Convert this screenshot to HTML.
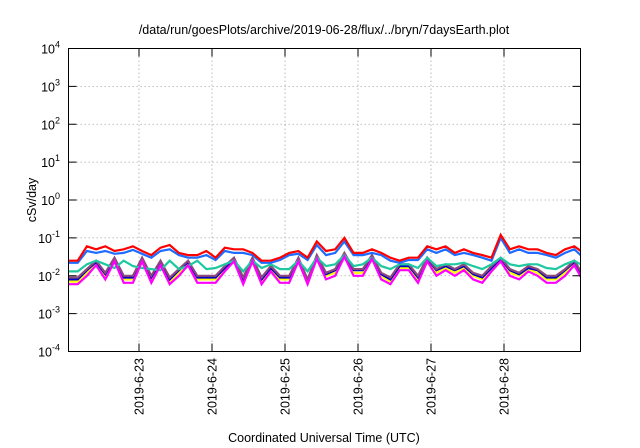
<!DOCTYPE html>
<html><head><meta charset="utf-8"><style>
html,body{margin:0;padding:0;background:#fff;}
svg{display:block;font-family:"Liberation Sans",sans-serif;}
</style></head><body>
<svg id="chart" width="640" height="448">
<text x="324" y="34" text-anchor="middle" font-size="12.5">/data/run/goesPlots/archive/2019-06-28/flux/../bryn/7daysEarth.plot</text>
<text x="0" y="0" transform="translate(36,200) rotate(-90)" text-anchor="middle" font-size="12.5">cSv/day</text>
<text x="324" y="442" text-anchor="middle" font-size="12.5">Coordinated Universal Time (UTC)</text>
<g id="grid"></g><g id="series"></g><g id="axes"></g>
</svg>
<script>
const yTickExponents = [-4,-3,-2,-1,0,1,2,3,4];
const xTickLabels = ["2019-6-23","2019-6-24","2019-6-25","2019-6-26","2019-6-27","2019-6-28"];
const xTickDays = [1,2,3,4,5,6];
// values in units of 1e-2 cSv/day, 3-hour steps starting 2019-6-22 00:00
const redVals = [2.5,2.5,6,5,6,4.5,5,6, 4.5,3.5,5.5,6.5,4,3.5,3.5,4.5, 3,5.5,5,5,4,2.5,2.5,3, 4,4.5,3,8,4.5,5,10,4, 4,5,4,3,2.5,3,3,6, 5,6,4,5,4,3.5,3,12, 5,6,5,5,4,3.5,5,6,4];
const blueVals = [2.2,2.2,4.5,4,4.5,3.8,4,4.8, 3.8,3,4.5,5,3.5,3,3,3.5, 2.6,4.5,4,4,3.5,2.2,2.2,2.6, 3.5,3.8,2.6,6.5,3.5,4,8,3.5, 3.5,4,3.5,2.5,2.2,2.6,2.6,5, 4,5,3.5,4,3.5,3,2.5,10, 4,5,4,4,3.5,3,4,5,3];
const tealVals = [1.3,1.3,2,2.5,2,1.6,2.5,1.8, 1.6,1.5,1.4,2.5,1.5,1.8,2.5,1.5, 1.6,2,2.5,1.3,2.5,1.6,2,1.5, 1.5,2.5,1.3,3,1.8,2,3.5,1.8, 2,3,1.8,1.5,2,2,1.6,3, 1.8,2,2,2.2,1.8,1.5,2,3, 2,1.8,2,2,1.6,1.5,2,2.5,1.8];
const purpleVals = [0.9,0.9,1.5,2.5,1.2,3,1,1, 3,1,2.5,0.9,1.5,2.5,1,1, 1,1.8,3,0.9,3,0.9,1.8,1, 1,3,0.8,3.5,1.2,1.5,4,1.5, 1.5,3.5,1.2,0.9,2,2,1,3, 1.5,2,1.5,2,1.2,1,1.8,3, 1.5,1.2,1.8,1.5,1,1,1.5,2.5,1];
const navyVals = [0.8,0.8,1.4,2.3,1.1,2.8,0.9,0.9, 2.8,0.9,2.3,0.8,1.4,2.3,0.9,0.9, 0.9,1.6,2.8,0.8,2.8,0.8,1.6,0.9, 0.9,2.8,0.75,3.2,1.1,1.4,3.7,1.4, 1.4,3.2,1.1,0.8,1.8,1.8,0.9,2.8, 1.4,1.8,1.4,1.8,1.1,0.9,1.6,2.8, 1.4,1.1,1.6,1.4,0.9,0.9,1.4,2.3,0.9];
const yellowVals = [0.7,0.7,1.2,2.1,1,2.6,0.8,0.8, 2.6,0.8,2.1,0.7,1.2,2.1,0.8,0.8, 0.8,1.5,2.6,0.7,2.6,0.7,1.5,0.8, 0.8,2.6,0.7,3,1,1.2,3.4,1.2, 1.2,3,1,0.7,1.6,1.6,0.8,2.6, 1.2,1.6,1.2,1.6,1,0.8,1.5,2.6, 1.2,1,1.5,1.2,0.8,0.8,1.2,2.1,0.8];
const magentaVals = [0.6,0.6,1,1.9,0.8,2.4,0.65,0.65, 2.4,0.65,1.9,0.6,1,1.9,0.65,0.65, 0.65,1.3,2.4,0.6,2.4,0.6,1.3,0.65, 0.65,2.4,0.6,2.8,0.8,1,3.2,1, 1,2.8,0.8,0.6,1.4,1.4,0.65,2.4, 1,1.4,1,1.4,0.8,0.65,1.3,2.4, 1,0.8,1.3,1,0.65,0.65,1,1.9,0.7];
const seriesColors = ["#ffff00","#0000c8","#8c4a7c","#1ec8a0","#1e6cff","#ff0000","#ff00ff"];
const seriesNames = ["yellow","navy","purple","teal","blue","red","magenta"];
const seriesData = [yellowVals,navyVals,purpleVals,tealVals,blueVals,redVals,magentaVals];

const L=68.5,R=580.5,T=48.5,B=351.5;
const day0=66, pxPerDay=73;
const xs = d => day0 + d*pxPerDay;
const ys = v => B - (Math.log10(v)+4)*(B-T)/8;
const NS="http://www.w3.org/2000/svg";
function mk(tag,attrs,parent){const e=document.createElementNS(NS,tag);for(const k in attrs)e.setAttribute(k,attrs[k]);parent.appendChild(e);return e;}
const grid=document.getElementById('grid'),axes=document.getElementById('axes'),ser=document.getElementById('series');

yTickExponents.forEach(ex=>{
  const y=ys(Math.pow(10,ex));
  if(ex>-4&&ex<4){const g=mk('line',{x1:L,x2:R,y1:y,y2:y,stroke:'#aaa','stroke-width':0.8,'stroke-dasharray':'1.5,2.5'},grid);
  
  }
  mk('line',{x1:L,x2:L+8,y1:y,y2:y,stroke:'#000'},axes);
  mk('line',{x1:R-8,x2:R,y1:y,y2:y,stroke:'#000'},axes);
  const t=mk('text',{x:60,y:y+5,'text-anchor':'end','font-size':12.5},axes);
  
  
  t.innerHTML='10<tspan dy="-6" font-size="9">'+ex+'</tspan>';
});
xTickDays.forEach((d,i)=>{
  const x=xs(d);
  const g=mk('line',{x1:x,x2:x,y1:T,y2:B,stroke:'#aaa','stroke-width':0.8,'stroke-dasharray':'1.5,2.5'},grid);
  
  
  mk('line',{x1:x,x2:x,y1:B-8,y2:B,stroke:'#000'},axes);
  mk('line',{x1:x,x2:x,y1:T,y2:T+8,stroke:'#000'},axes);
  const t=mk('text',{x:0,y:0,transform:`translate(${x+4.5},358) rotate(-90)`,'text-anchor':'end','font-size':12.5},axes);
  
  
  t.textContent=xTickLabels[i];
});
const border=mk('rect',{x:L,y:T,width:R-L,height:B-T,fill:'none',stroke:'#000','stroke-width':1},axes);



const svgEl=document.getElementById('chart');
const clip=mk('clipPath',{id:'pc'},svgEl);mk('rect',{x:L,y:T,width:R-L,height:B-T},clip);
ser.setAttribute('clip-path','url(#pc)');
seriesData.forEach((vals,si)=>{
  const step=(R-L+3)/(vals.length-1)/pxPerDay;
  const pts=vals.map((v,i)=>{const x=L+i*step*pxPerDay;return x.toFixed(1)+','+ys(v*0.01).toFixed(1);}).join(' ');
  const p=mk('polyline',{points:pts,fill:'none',stroke:seriesColors[si],'stroke-width':2.2,'stroke-linejoin':'miter'},ser);
  
  
});
</script>
</body></html>
